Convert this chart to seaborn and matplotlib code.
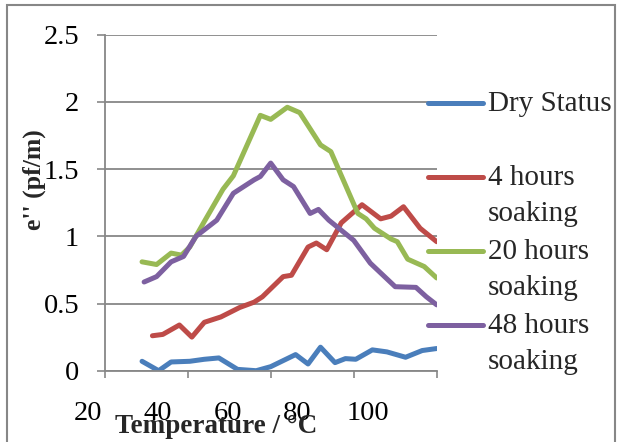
import matplotlib
matplotlib.use("Agg")
import matplotlib.pyplot as plt
import matplotlib.patches as mpatches
from matplotlib.transforms import ScaledTranslation
import pandas as pd
import seaborn as sns

# Dielectric loss e'' (pf/m) against temperature (°C) for each soaking condition
dry_temp = [29, 33, 36, 40.5, 44, 47.5, 52, 56.5, 60, 62, 66, 69, 72, 75.5, 78, 80.5, 84.5, 88, 92.5, 96.5, 100]
dry_loss = [0.07, 0.0, 0.065, 0.07, 0.085, 0.095, 0.01, 0.0, 0.03, 0.06, 0.12, 0.05, 0.175, 0.06, 0.09, 0.085, 0.155, 0.14, 0.10, 0.15, 0.165]

h4_temp = [31.5, 34, 38, 41, 44, 48, 52.5, 56, 58, 60, 63, 65, 69, 71, 73.5, 77, 82, 86.5, 89, 92, 96, 100]
h4_loss = [0.26, 0.27, 0.34, 0.25, 0.36, 0.40, 0.47, 0.51, 0.55, 0.61, 0.70, 0.71, 0.92, 0.95, 0.90, 1.10, 1.235, 1.13, 1.15, 1.22, 1.06, 0.96]

h20_temp = [29, 32.5, 36, 38.5, 40.5, 44, 48.5, 51, 57.5, 60, 64, 67, 72, 74.5, 81, 83, 85, 89, 90.5, 93, 97, 100]
h20_loss = [0.81, 0.79, 0.875, 0.86, 0.92, 1.11, 1.35, 1.45, 1.90, 1.87, 1.96, 1.92, 1.68, 1.63, 1.17, 1.13, 1.06, 0.98, 0.96, 0.83, 0.775, 0.69]

h48_temp = [29.5, 32.5, 36, 39, 42, 47, 50, 51, 56, 57.5, 60, 63, 65.5, 69.5, 71.5, 74, 80, 84, 90, 95, 97.5, 100]
h48_loss = [0.66, 0.70, 0.81, 0.85, 1.0, 1.12, 1.27, 1.32, 1.42, 1.445, 1.545, 1.42, 1.37, 1.17, 1.20, 1.12, 0.97, 0.80, 0.625, 0.62, 0.55, 0.49]

series_names = ["Dry Status", "4 hours soaking", "20 hours soaking", "48 hours soaking"]
legend_labels = ["Dry Status\n", "4 hours\nsoaking", "20 hours\nsoaking", "48 hours\nsoaking"]
palette = ["#4A7EBB", "#BE4B48", "#98B954", "#7D60A0"]

x_ticks = [20, 40, 60, 80, 100]
y_ticks = [0, 0.5, 1, 1.5, 2, 2.5]
y_tick_labels = ["0", "0.5", "1", "1.5", "2", "2.5"]

frames = []
for name, t, v in zip(series_names,
                      [dry_temp, h4_temp, h20_temp, h48_temp],
                      [dry_loss, h4_loss, h20_loss, h48_loss]):
    frames.append(pd.DataFrame({"Temperature": t, "Loss": v, "Condition": name}))
df = pd.concat(frames, ignore_index=True)

sns.set_style("white")
plt.rcParams["font.family"] = ["Liberation Serif", "DejaVu Serif"]

W, H = 621, 442
fig = plt.figure(figsize=(W / 100, H / 100), dpi=100)
ax = fig.add_axes([104.7 / W, 1 - 370.7 / H, 332 / W, 336 / H])

sns.lineplot(data=df, x="Temperature", y="Loss", hue="Condition",
             hue_order=series_names, palette=palette, sort=False,
             estimator=None, linewidth=3.6, legend=False, ax=ax,
             solid_joinstyle="round", solid_capstyle="round")

grey = "#878787"
ax.set_xlim(20, 100)
ax.set_ylim(0, 2.5)
ax.set_xticks(x_ticks)
ax.set_xticklabels([str(v) for v in x_ticks])
ax.set_yticks(y_ticks)
ax.set_yticklabels(y_tick_labels)
ax.yaxis.grid(True, color=grey, linewidth=1.3)
ax.xaxis.grid(False)
ax.set_axisbelow(True)
for side in ("top", "right"):
    ax.spines[side].set_visible(False)
for side in ("left", "bottom"):
    ax.spines[side].set_color(grey)
    ax.spines[side].set_linewidth(1.3)

ax.tick_params(axis="y", left=True, direction="out", length=6, width=1.2,
               color=grey, labelsize=20.5, pad=12.5, labelcolor="black")
ax.tick_params(axis="x", bottom=True, direction="out", length=5, width=1.2,
               color=grey, labelsize=20.5, pad=17, labelcolor="black")

# the labels under the axis sit progressively left of their ticks
x_label_shift_px = [-16.7, -29.7, -43, -57, -68.7]
for lab, dx in zip(ax.get_xticklabels(), x_label_shift_px):
    lab.set_transform(lab.get_transform() + ScaledTranslation(dx / 100, 0, fig.dpi_scale_trans))

ax.set_xlabel("Temperature / °C", fontsize=19.5, fontweight="bold")
ax.set_ylabel("e'' (pf/m)", fontsize=18.5, fontweight="bold")
ax.xaxis.set_label_coords((216 - 104.7) / 332, (370.7 - 414) / 336)
ax.yaxis.set_label_coords((46 - 104.7) / 332, (370.7 - 180) / 336)

leg = ax.legend(handles=ax.get_lines()[:4], labels=legend_labels,
                loc="upper left", bbox_to_anchor=(428 / W, 1 - 91 / H),
                bbox_transform=fig.transFigure, frameon=False,
                fontsize=21, handlelength=1.88, handletextpad=0.17,
                labelspacing=0.43, borderpad=0, borderaxespad=0)
for t in leg.get_texts():
    t.set_linespacing(1.48)
for ln in leg.get_lines():
    ln.set_linewidth(3.6)
    ln.set_solid_capstyle("round")
    ln.set_transform(ln.get_transform() + ScaledTranslation(0, 0.19, fig.dpi_scale_trans))

# outer chart frame
fig.patches.append(mpatches.Rectangle((7 / W, -0.02), (615 - 7) / W, 1 - 5 / H + 0.02,
                                      transform=fig.transFigure, fill=False,
                                      edgecolor=grey, linewidth=1.5))

fig.savefig("out.png", dpi=100)
